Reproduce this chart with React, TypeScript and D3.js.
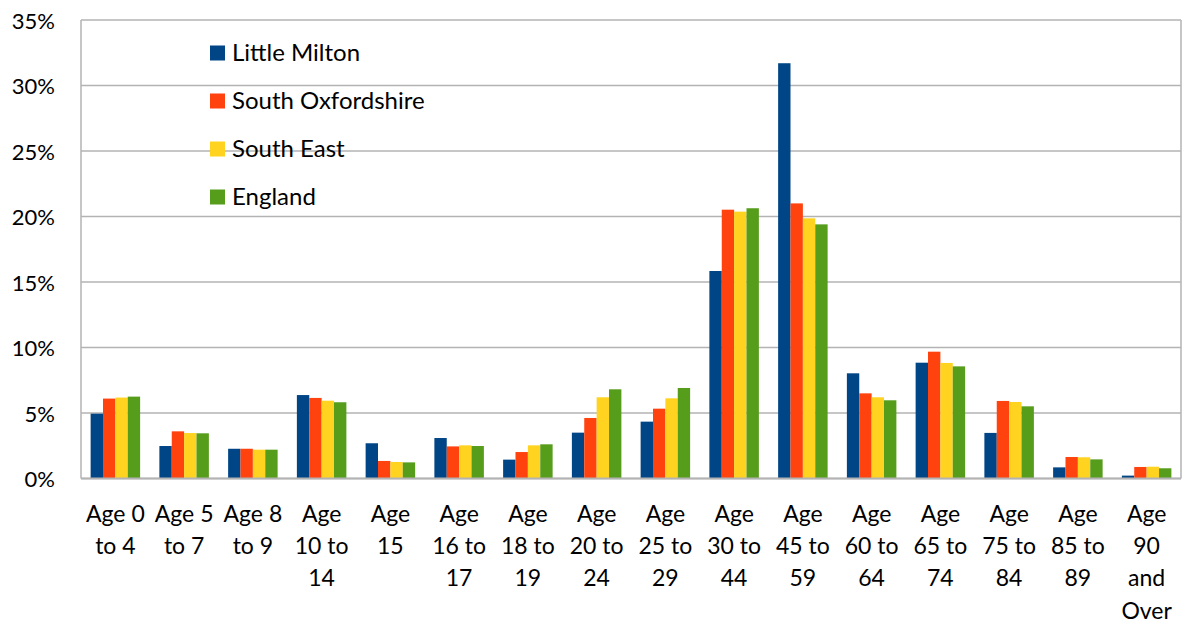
import React from "react";
import * as d3 from "d3";

// Age bands, each label pre-split into its display lines
const categories: string[][] = [
  ["Age 0", "to 4"],
  ["Age 5", "to 7"],
  ["Age 8", "to 9"],
  ["Age", "10 to", "14"],
  ["Age", "15"],
  ["Age", "16 to", "17"],
  ["Age", "18 to", "19"],
  ["Age", "20 to", "24"],
  ["Age", "25 to", "29"],
  ["Age", "30 to", "44"],
  ["Age", "45 to", "59"],
  ["Age", "60 to", "64"],
  ["Age", "65 to", "74"],
  ["Age", "75 to", "84"],
  ["Age", "85 to", "89"],
  ["Age", "90", "and", "Over"],
];

const seriesNames = ["Little Milton", "South Oxfordshire", "South East", "England"];

// Share of population in each age band (%)
const littleMilton = [4.95, 2.48, 2.27, 6.37, 2.69, 3.09, 1.44, 3.5, 4.34, 15.84, 31.7, 8.03, 8.84, 3.48, 0.85, 0.22];
const southOxfordshire = [6.1, 3.6, 2.27, 6.15, 1.34, 2.45, 2.02, 4.62, 5.33, 20.52, 21.0, 6.5, 9.68, 5.92, 1.64, 0.88];
const southEast = [6.18, 3.47, 2.2, 5.94, 1.26, 2.53, 2.53, 6.2, 6.12, 20.37, 19.86, 6.2, 8.82, 5.84, 1.62, 0.9];
const england = [6.25, 3.45, 2.2, 5.82, 1.23, 2.48, 2.61, 6.81, 6.91, 20.63, 19.4, 5.97, 8.56, 5.51, 1.46, 0.78];

const seriesValues = [littleMilton, southOxfordshire, southEast, england];
const colors = ["#004586", "#ff420e", "#ffd320", "#579d1c"];

const yTicks = [0, 5, 10, 15, 20, 25, 30, 35];

const W = 1182;
const H = 624;
const left = 81;
const right = 1181;
const top = 20;
const bottom = 478.5;
const font = "Lato, 'Open Sans', sans-serif";

export default function App() {
  const x = d3
    .scaleBand<number>()
    .domain(d3.range(categories.length))
    .range([left, right])
    .paddingInner(0.28)
    .paddingOuter(0.14);
  const xs = d3
    .scaleBand<number>()
    .domain(d3.range(seriesNames.length))
    .range([0, x.bandwidth()]);
  const y = d3.scaleLinear().domain([0, 35]).range([bottom, top]);

  return (
    <svg
      width={W}
      height={H}
      style={{ position: "absolute", left: 0, top: 0, background: "#fff" }}
      fontFamily={font}
    >
      {/* horizontal gridlines */}
      {yTicks.map((t) => (
        <line
          key={"g" + t}
          x1={left}
          x2={right}
          y1={y(t)}
          y2={y(t)}
          stroke="#b3b3b3"
          strokeWidth={1.5}
        />
      ))}
      {/* plot frame sides */}
      <line x1={left} x2={left} y1={top} y2={bottom} stroke="#b3b3b3" strokeWidth={1.5} />
      <line x1={right} x2={right} y1={top} y2={bottom} stroke="#b3b3b3" strokeWidth={1.5} />

      {/* bars */}
      {seriesValues.map((vals, si) =>
        vals.map((v, ci) => (
          <rect
            key={`b${si}-${ci}`}
            x={(x(ci) as number) + (xs(si) as number)}
            y={y(v)}
            width={xs.bandwidth()}
            height={y(0) - y(v)}
            fill={colors[si]}
          />
        ))
      )}
      <line x1={left} x2={right} y1={bottom} y2={bottom} stroke="#b3b3b3" strokeWidth={2} />

      {/* y-axis labels */}
      {yTicks.map((t) => (
        <text
          key={"t" + t}
          x={55}
          y={y(t)}
          textAnchor="end"
          dominantBaseline="central"
          fontSize={22}
          fill="#000"
        >
          {t + "%"}
        </text>
      ))}

      {/* x-axis labels */}
      {categories.map((lines, ci) => (
        <text key={"c" + ci} textAnchor="middle" fontSize={23} fill="#000">
          {lines.map((ln, li) => (
            <tspan key={li} x={(x(ci) as number) + x.bandwidth() / 2} y={522 + li * 32.2}>
              {ln}
            </tspan>
          ))}
        </text>
      ))}

      {/* legend */}
      {seriesNames.map((name, si) => (
        <g key={"l" + si} transform={`translate(210, ${53 + si * 48})`}>
          <rect x={0} y={-7.5} width={15} height={15} fill={colors[si]} />
          <text x={22} y={7.5} fontSize={24} fill="#000">
            {name}
          </text>
        </g>
      ))}
    </svg>
  );
}
